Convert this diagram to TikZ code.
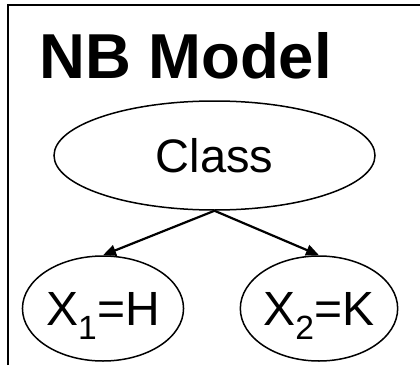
\documentclass[tikz,border=0pt]{standalone}
\usepackage{fontspec}
\setmainfont{Liberation Sans}
\usetikzlibrary{arrows.meta,shapes,positioning}

\tikzset{
  varnode/.style={draw, ellipse, line width=1.5pt, inner sep=0pt, text depth=0pt},
  edge/.style={-{Triangle[length=13pt,width=11pt]}, line width=2.2pt}
}

\begin{document}
\begin{tikzpicture}[x=1pt,y=1pt]
      \useasboundingbox (0,0) rectangle (420,365);

      % frame
      \draw[line width=2pt] (7.5,0) -- (7.5,359.5) -- (420,359.5);

      % title
      \node[anchor=base west, inner sep=0pt] (title) at (39,287)
        {\fontsize{63.5}{70}\selectfont\bfseries NB Model};

      % class node
      \node[varnode, minimum width=321pt, minimum height=109pt] (class) at (214.5,209.5)
        {\fontsize{47}{52}\selectfont Class};

      % feature nodes
      \node[varnode, minimum width=160pt, minimum height=105pt] (xone) at (103,56.5)
        {\fontsize{48}{52}\selectfont X\textsubscript{1}=H};
      \node[varnode, minimum width=146pt, minimum height=105pt] (xtwo) at (319,56.5)
        {\fontsize{48}{52}\selectfont X\textsubscript{2}=K};

      % edges
      \draw[edge] (class.south) -- (xone.north);
      \draw[edge] (class.south) -- (xtwo.north);
    \end{tikzpicture}
\end{document}
